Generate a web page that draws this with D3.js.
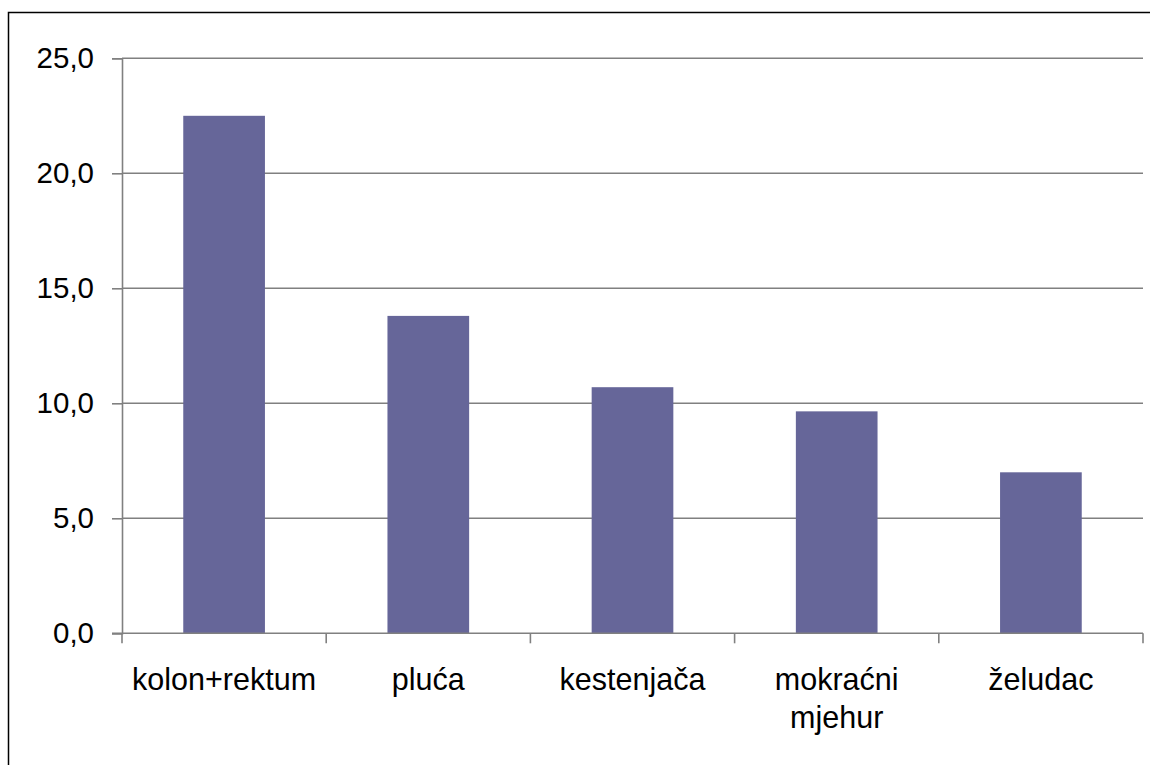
<!DOCTYPE html>
<html>
<head>
<meta charset="utf-8">
<script src="https://cdn.jsdelivr.net/npm/d3@7"></script>
<style>
  html, body { margin: 0; padding: 0; background: #fff; }
  svg { display: block; }
  text { font-family: "Liberation Sans", Arial, sans-serif; fill: #000; }
</style>
</head>
<body>
<svg id="chart" width="1150" height="765"></svg>
<script>
const categories = ["kolon+rektum", "pluća", "kestenjača", "mokraćni\nmjehur", "želudac"];
const values = [22.5, 13.8, 10.7, 9.65, 7.0];
const yTicks = [0, 5, 10, 15, 20, 25];
const yTickLabels = ["0,0", "5,0", "10,0", "15,0", "20,0", "25,0"];

const svg = d3.select("#chart");
const plot = { left: 122, right: 1143, top: 58.3, bottom: 633.3 };

svg.append("rect").attr("x", 8.5).attr("y", 12.5).attr("width", 1160).attr("height", 780)
  .attr("fill", "#fff").attr("stroke", "#000").attr("stroke-width", 1.5);

const x = d3.scaleBand().domain(categories).range([plot.left, plot.right])
  .paddingInner(0.6).paddingOuter(0.3);
const xTickScale = d3.scaleBand().domain(categories).range([plot.left, plot.right]).padding(0);
const y = d3.scaleLinear().domain([0, 25]).range([plot.bottom, plot.top]);

const grid = "#808080";

// gridlines
svg.append("g").selectAll("line").data(yTicks.filter(d => d > 0)).join("line")
  .attr("x1", plot.left).attr("x2", plot.right)
  .attr("y1", d => y(d)).attr("y2", d => y(d))
  .attr("stroke", grid).attr("stroke-width", 1.6);

// bars
svg.append("g").selectAll("rect").data(values).join("rect")
  .attr("x", (d, i) => x(categories[i]))
  .attr("width", x.bandwidth())
  .attr("y", d => y(d))
  .attr("height", d => y(0) - y(d))
  .attr("fill", "#666699");

// y axis
const yAxis = d3.axisLeft(y).tickValues(yTicks).tickSize(10)
  .tickFormat((d, i) => yTickLabels[i]).tickPadding(18);
const gy = svg.append("g").attr("transform", `translate(${plot.left},0)`).call(yAxis);
gy.select(".domain").attr("stroke", grid).attr("stroke-width", 1.6);
gy.selectAll(".tick line").attr("stroke", grid).attr("stroke-width", 1.6);
gy.selectAll(".tick text").attr("font-size", 29.5).attr("font-family", "Liberation Sans, Arial, sans-serif")
  .attr("fill", "#000");

// x axis
const gx = svg.append("g").attr("transform", `translate(0,${plot.bottom})`);
gx.append("line").attr("x1", plot.left - 10).attr("x2", plot.right)
  .attr("stroke", grid).attr("stroke-width", 1.6);
const tickXs = categories.map(c => xTickScale(c)).concat([plot.right]);
gx.selectAll("line.tk").data(tickXs).join("line").attr("class", "tk")
  .attr("x1", d => d).attr("x2", d => d).attr("y1", 0).attr("y2", 10)
  .attr("stroke", grid).attr("stroke-width", 1.6);

const labels = gx.selectAll("text.cat").data(categories).join("text").attr("class", "cat")
  .attr("x", d => xTickScale(d) + xTickScale.bandwidth() / 2)
  .attr("y", 57)
  .attr("text-anchor", "middle")
  .attr("font-size", 30.5);
labels.each(function(d) {
  const lines = d.split("\n");
  const t = d3.select(this);
  lines.forEach((ln, i) => {
    t.append("tspan").attr("x", t.attr("x")).attr("dy", i === 0 ? 0 : 37.5).text(ln);
  });
});
</script>
</body>
</html>
